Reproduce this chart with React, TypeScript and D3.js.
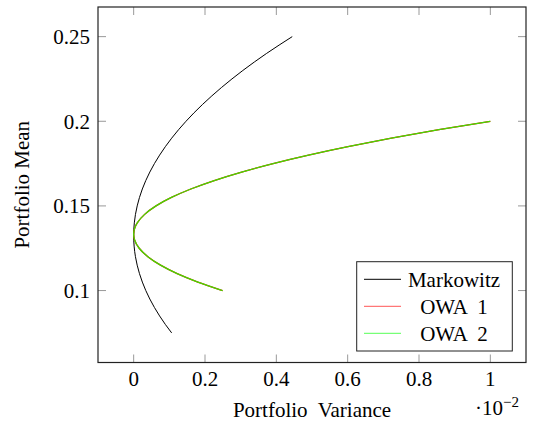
import * as d3 from "d3";

// variance values are in units of 1e-2
const markowitzMean = [0.075, 0.08, 0.09, 0.1, 0.11, 0.12, 0.1325, 0.14, 0.15, 0.16, 0.17, 0.18, 0.19, 0.2, 0.21, 0.22, 0.23, 0.24, 0.25];
const markowitzVar = [0.1065, 0.0888, 0.0582, 0.034, 0.0163, 0.005, 0, 0.0018, 0.0099, 0.0243, 0.0453, 0.0727, 0.1065, 0.1467, 0.1934, 0.2465, 0.3061, 0.3721, 0.4446];

const owaMean = [0.1, 0.105, 0.11, 0.115, 0.12, 0.125, 0.13, 0.1333, 0.137, 0.14, 0.145, 0.15, 0.155, 0.16, 0.165, 0.17, 0.175, 0.18, 0.185, 0.19, 0.195, 0.2];
const owa1Var = [0.2493, 0.18, 0.122, 0.0753, 0.0398, 0.0155, 0.0024, 0, 0.0031, 0.0101, 0.0308, 0.0627, 0.1059, 0.1603, 0.2259, 0.3028, 0.3909, 0.4903, 0.6009, 0.7227, 0.8558, 1.0];
const owa2Var = [0.2493, 0.18, 0.122, 0.0753, 0.0398, 0.0155, 0.0024, 0, 0.0031, 0.0101, 0.0308, 0.0627, 0.1059, 0.1603, 0.2259, 0.3028, 0.3909, 0.4903, 0.6009, 0.7227, 0.8558, 1.0];

const xTicks = [0, 0.2, 0.4, 0.6, 0.8, 1];
const yTicks = [0.1, 0.15, 0.2, 0.25];
const legendNames = ["Markowitz", "OWA 1", "OWA 2"];
const legendColors = ["#000000", "#ff5555", "#55ff55"];

const txt = { fontFamily: "Liberation Serif, DejaVu Serif, serif", fontSize: 21, whiteSpace: "pre" as const };

export default function App() {
  const width = 533;
  const height = 426;
  const left = 98, right = 526, top = 7, bottom = 362.5;

  const x = d3.scaleLinear().domain([-0.1, 1.1]).range([left, right]);
  const y = d3.scaleLinear().domain([0.0575, 0.2675]).range([bottom, top]);

  const line = d3.line<[number, number]>()
    .x(d => x(d[0]))
    .y(d => y(d[1]))
    .curve(d3.curveMonotoneY);

  const mk = markowitzMean.map((m, i) => [markowitzVar[i], m] as [number, number]);
  const o1 = owaMean.map((m, i) => [owa1Var[i], m] as [number, number]);
  const o2 = owaMean.map((m, i) => [owa2Var[i], m] as [number, number]);

  const tickLen = 8;
  const tickColor = "#999";

  return (
    <svg width={width} height={height} style={{ position: "absolute", left: 0, top: 0 }}>
      <rect x={0} y={0} width={width} height={height} fill="white" />
      {xTicks.map(t => (
        <g key={"x" + t}>
          <line x1={x(t)} x2={x(t)} y1={bottom} y2={bottom - tickLen} stroke={tickColor} strokeWidth={1} />
          <line x1={x(t)} x2={x(t)} y1={top} y2={top + tickLen} stroke={tickColor} strokeWidth={1} />
          <text x={x(t)} y={bottom + 23} textAnchor="middle" style={txt} fill="#000">{t}</text>
        </g>
      ))}
      {yTicks.map(t => (
        <g key={"y" + t}>
          <line x1={left} x2={left + tickLen} y1={y(t)} y2={y(t)} stroke={tickColor} strokeWidth={1} />
          <line x1={right} x2={right - tickLen} y1={y(t)} y2={y(t)} stroke={tickColor} strokeWidth={1} />
          <text x={90} y={y(t)} dy="0.35em" textAnchor="end" style={txt} fill="#000">{t}</text>
        </g>
      ))}
      <path d={line(mk) || ""} fill="none" stroke="#000" strokeWidth={1} />
      <path d={line(o1) || ""} fill="none" stroke="#ff0000" strokeWidth={1.3} />
      <path d={line(o2) || ""} fill="none" stroke="#3fdd00" strokeWidth={1.3} />
      <rect x={left} y={top} width={right - left} height={bottom - top} fill="none" stroke="#222" strokeWidth={1.2} />
      <g>
        <rect x={356.7} y={261.7} width={155.6} height={89.3} fill="white" stroke="#222" strokeWidth={1} />
        {legendNames.map((n, i) => (
          <g key={n}>
            <line x1={364} x2={401} y1={279.3 + i * 27} y2={279.3 + i * 27} stroke={legendColors[i]} strokeWidth={1} />
            <text x={454} y={279.3 + i * 27} dy="0.35em" textAnchor="middle" style={txt} fill="#000">{n.replace(" ", "  ")}</text>
          </g>
        ))}
      </g>
      <text x={(left + right) / 2} y={417} textAnchor="middle" style={txt} fill="#000">Portfolio  Variance</text>
      <text transform={`translate(29, ${(top + bottom) / 2}) rotate(-90)`} textAnchor="middle" style={txt} fill="#000">Portfolio Mean</text>
      <text x={475} y={415} style={txt} fill="#000">
        ·10<tspan dy={-8} style={{ fontSize: 15 }}>−2</tspan>
      </text>
    </svg>
  );
}
